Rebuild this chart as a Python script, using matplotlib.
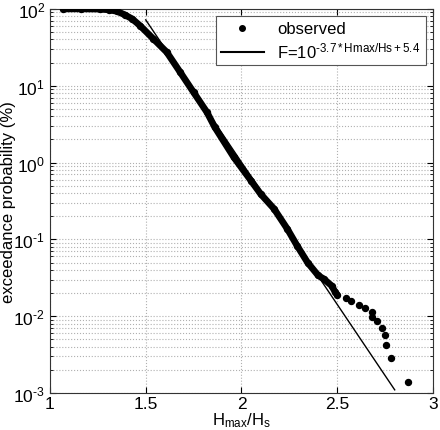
import math
import matplotlib
matplotlib.use("Agg")
import matplotlib.pyplot as plt
from matplotlib.ticker import FixedLocator, FuncFormatter

plt.rcParams['font.family'] = ['Liberation Sans', 'DejaVu Sans']
plt.rcParams['mathtext.fontset'] = 'custom'
plt.rcParams['mathtext.rm'] = 'Liberation Sans'
plt.rcParams['mathtext.it'] = 'Liberation Sans'
plt.rcParams['mathtext.default'] = 'regular'
plt.rcParams['axes.unicode_minus'] = False

# observed exceedance (dense part of the curve)
hr_dense = [1.07, 1.16, 1.26, 1.31, 1.35, 1.39, 1.43, 1.47, 1.54, 1.61, 1.68,
            1.75, 1.82, 1.86, 1.96, 2.05, 2.10, 2.17, 2.24, 2.29, 2.345, 2.40,
            2.43, 2.47, 2.49, 2.50]
p_dense = [100, 100, 99.5, 97, 93, 84, 74, 60.6, 40.7, 27.3, 15.0,
           8.2, 4.5, 2.9, 1.17, 0.58, 0.39, 0.25, 0.136, 0.083, 0.050, 0.034,
           0.0305, 0.025, 0.0205, 0.019]

# observed exceedance (sparse tail)
hr_tail = [2.548, 2.574, 2.615, 2.646, 2.681, 2.684, 2.705, 2.733, 2.75,
           2.754, 2.78, 2.868]
p_tail = [0.0171, 0.0156, 0.0141, 0.0127, 0.0112, 0.00986, 0.00859, 0.00708,
          0.00569, 0.00421, 0.00283, 0.0014]

# fitted line end points
hr_fit = [1.50, 2.80]
p_fit = [72, 0.0011]

y_exps = [-3, -2, -1, 0, 1, 2]
x_ticks = [1, 1.5, 2, 2.5, 3]
x_labels = ['1', '1.5', '2', '2.5', '3']

HY = '\u2010'  # plain hyphen instead of minus sign


def fmt_pow(v, pos):
    e = int(round(math.log10(v)))
    return '10$^{%s}$' % str(e).replace('-', HY)


fig = plt.figure(figsize=(4.4, 4.31), dpi=100)
ax = fig.add_axes([0.1136, 0.0858, 0.8705, 0.8912])

ax.plot(hr_fit, p_fit, color='k', lw=1.0, zorder=3)
ax.plot(hr_dense, p_dense, color='k', lw=4.8, solid_capstyle='round',
        solid_joinstyle='round', zorder=4)
ax.plot(hr_dense + hr_tail, p_dense + p_tail, 'o', color='k', ms=4.3,
        mec='k', zorder=5)

# legend handles
ax.plot([], [], '.', color='k', ms=8, label='observed')
ax.plot([], [], '-', color='k', lw=1.5,
        label='F=10$^{%s3.7*Hmax/Hs+5.4}$' % HY)

ax.set_yscale('log')
ax.set_xlim(1, 3)
ax.set_ylim(1e-3, 1e2)
ax.yaxis.set_major_locator(FixedLocator([10.0 ** e for e in y_exps]))
ax.yaxis.set_major_formatter(FuncFormatter(fmt_pow))
ax.set_xticks(x_ticks)
ax.set_xticklabels(x_labels)
ax.tick_params(which='both', direction='in', top=True, right=True,
               labelsize=12.5)
ax.tick_params(axis='x', pad=2)
ax.tick_params(which='major', length=4)
ax.tick_params(which='minor', length=2)

ax.grid(True, which='major', color='#b0b0b0', ls=':', lw=0.8)
ax.grid(True, which='minor', axis='y', color='#b0b0b0', ls=':', lw=0.8)

ax.set_xlabel(r'H$_{max}$/H$_s$', fontsize=12, labelpad=0)
ax.set_ylabel('exceedance probability (%)', fontsize=12)
ax.yaxis.set_label_coords(-0.09, 0.5)

leg = ax.legend(loc='upper right', fontsize=12, frameon=True,
                fancybox=False, edgecolor='#555555', framealpha=1,
                borderpad=0.3, handlelength=2.6, labelspacing=0.25,
                borderaxespad=0.45)
leg.get_frame().set_linewidth(0.8)

for s in ax.spines.values():
    s.set_color('#333333')
    s.set_linewidth(0.8)

fig.savefig('out.png', dpi=100)
